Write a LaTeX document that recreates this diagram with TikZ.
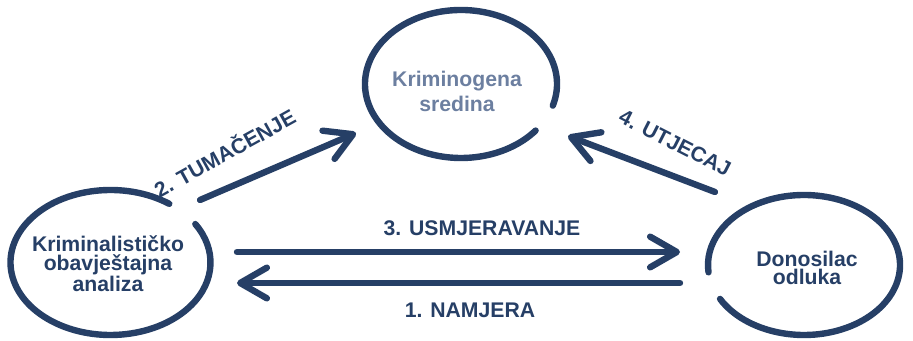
\documentclass[tikz,border=0pt]{standalone}
\usepackage{fontspec}
\setmainfont{Liberation Sans}
\usetikzlibrary{arrows.meta}
\definecolor{navy}{HTML}{263F66}
\definecolor{slate}{HTML}{6C7FA0}

\begin{document}
\begin{tikzpicture}[x=0.75pt, y=0.75pt,
  ring/.style={draw=navy, line width=4.8pt, line cap=round},
  txt/.style={text=navy, font=\fontsize{15.9}{13.9}\selectfont\bfseries, align=center},
  e/.style={navy, line width=4.8pt, line cap=round, -{Straight Barb[length=20pt,width=23pt,round]}},
  lab/.style={text=navy, font=\fontsize{15.9}{19}\selectfont\bfseries}
]
\useasboundingbox (0,0) rectangle (913,341);

\node[txt] (an) at (108,77) {Kriminalističko\\obavještajna\\analiza};
\node[txt, text=slate, font=\fontsize{15.9}{18.8}\selectfont\bfseries] (kr) at (457,250) {Kriminogena\\sredina};
\node[txt] (dn) at (807,73) {Donosilac\\odluka};

% open rings
\draw[ring] (110.5,78.5) ++(54:100 and 72.5) arc[start angle=54, end angle=392, x radius=100, y radius=72.5];
\draw[ring] (461,257) ++(-17:96 and 74) arc[start angle=-17, end angle=321, x radius=96, y radius=74];
\draw[ring] (804,76) ++(209:96 and 70) arc[start angle=209, end angle=546, x radius=96, y radius=70];

\coordinate (t1) at (200,141);
\coordinate (t2) at (356,208);
\coordinate (u1) at (715,149);
\coordinate (u2) at (568,205);
\coordinate (s1) at (237,89);
\coordinate (s2) at (680,89);
\coordinate (n1) at (680,58);
\coordinate (n2) at (237,58);

\draw[e] (t1) -- (t2);
\draw[e] (u1) -- (u2);
\draw[e] (s1) -- (s2);
\draw[e] (n1) -- (n2);

\node[lab, rotate=29] (tl) at (224,189) {2. TUMAČENJE};
\node[lab, rotate=-27] (ul) at (675,198) {4. UTJECAJ};
\node[lab] (sl) at (482,113) {3. USMJERAVANJE};
\node[lab] (nl) at (470,31) {1. NAMJERA};
\end{tikzpicture}
\end{document}
